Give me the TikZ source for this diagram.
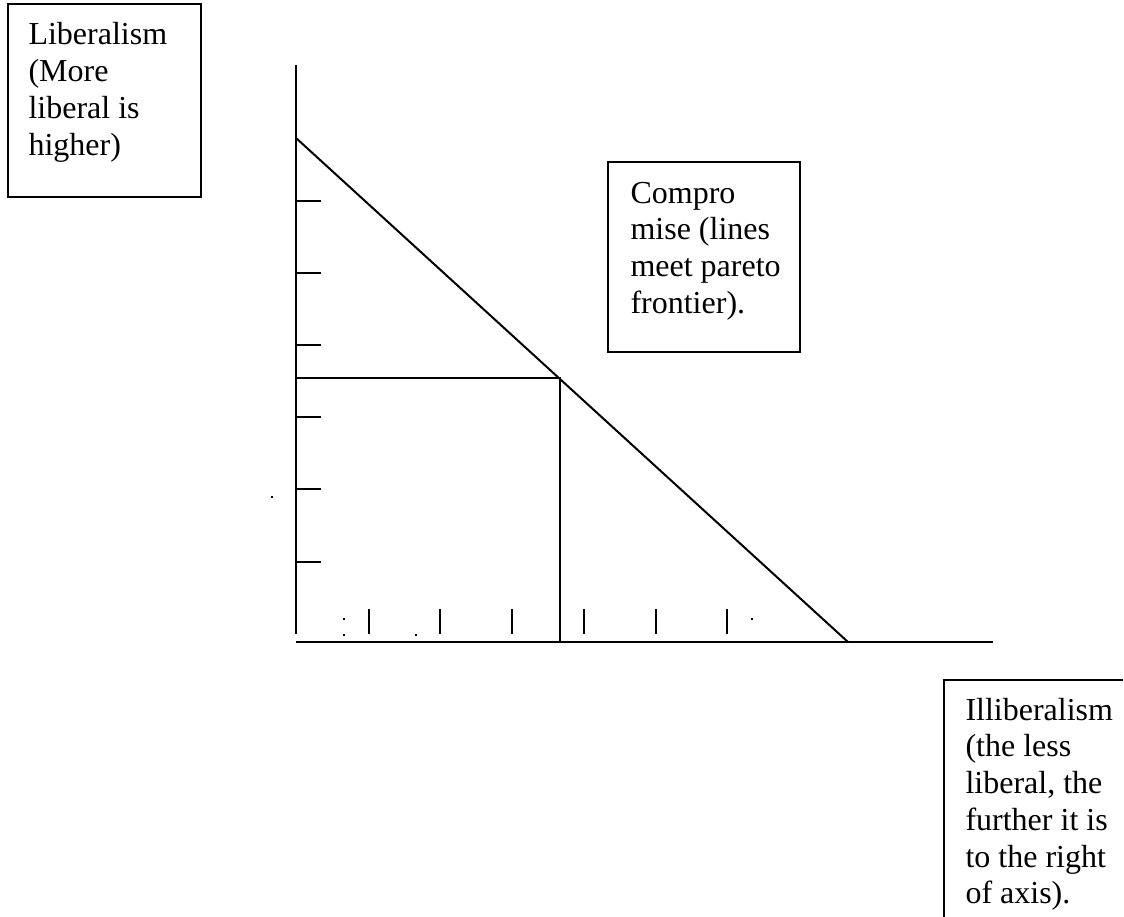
\documentclass[tikz,border=0pt]{standalone}
\usepackage{fontspec}
\setmainfont{Liberation Serif}
\begin{document}
\begin{tikzpicture}[x=0.375pt,y=-0.375pt,
  ln/.style={line width=0.75pt,black},
  tickmark/.style={line width=0.75pt,black},
  tbox/.style={draw,line width=0.75pt,anchor=north west,inner sep=0pt,outer sep=0pt},
  ttext/.style={anchor=base west,inner sep=0pt,font=\fontsize{12}{13.8}\selectfont},
  speck/.style={fill=black,inner sep=0pt,minimum size=0.75pt}]
\useasboundingbox (0,0) rectangle (1124,917);
% axes
\coordinate (ytop) at (296,65);
\coordinate (ybot) at (296,634);
\coordinate (xl) at (296,642);
\coordinate (xr) at (993,642);
\draw[ln] (ytop) -- (ybot);
\draw[ln] (xl) -- (xr);
% y ticks
\foreach \yy in {201,273,345,417,489,562}{
  \draw[tickmark] (296,\yy) -- (321,\yy);
}
% x ticks
\foreach \xx in {369,440,512,584,656,727}{
  \draw[tickmark] (\xx,609) -- (\xx,634);
}
% frontier
\coordinate (fa) at (296,138);
\coordinate (fb) at (848,642);
\draw[ln] (fa) -- (fb);
% compromise lines
\coordinate (cp) at (560,378);
\coordinate (cy) at (296,378);
\coordinate (cx) at (560,642);
\draw[ln] (cy) -- (cp) -- (cx);
% specks
\node[speck] (s1) at (344,619) {};
\node[speck] (s2) at (344,635) {};
\node[speck] (s3) at (416,635) {};
\node[speck] (s4) at (752,619) {};
\node[speck] (s5) at (272,497) {};
% boxes
\node[tbox,minimum width={193*0.375pt},minimum height={193*0.375pt}] (libbox) at (8,4) {};
\node[ttext] (libtxt) at (28,45) {\parbox[t]{70pt}{\raggedright Liberalism\\(More\\liberal is\\higher)}};
\node[tbox,minimum width={192*0.375pt},minimum height={190*0.375pt}] (compbox) at (608,162) {};
\node[ttext] (comptxt) at (630,203) {\parbox[t]{70pt}{\raggedright Compro\\mise (lines\\meet pareto\\frontier).}};
\coordinate (ib1) at (1123,680);
\coordinate (ib2) at (944,680);
\coordinate (ib3) at (944,917);
\draw[ln] (ib1) -- (ib2) -- (ib3);
\node[ttext] (illtxt) at (965,720) {\parbox[t]{70pt}{\raggedright Illiberalism\\(the less\\liberal, the\\further it is\\to the right\\of axis).}};
\end{tikzpicture}
\end{document}
